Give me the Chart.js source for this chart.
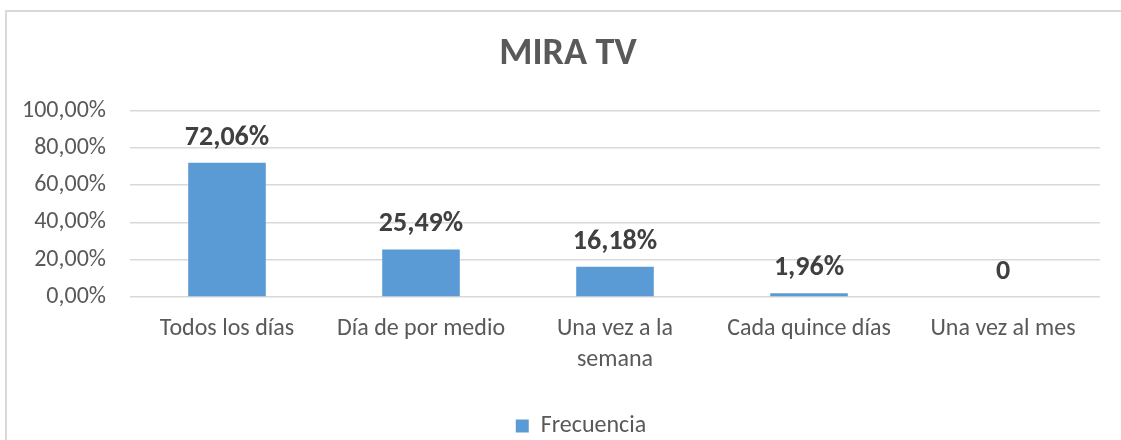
<!DOCTYPE html>
<html>
<head>
<meta charset="utf-8">
<script src="https://cdn.jsdelivr.net/npm/chart.js@4.4.1/dist/chart.umd.min.js"></script>
<style>
  html, body { margin: 0; padding: 0; background: #fff; overflow: hidden; }
  #wrap { position: relative; width: 1140px; height: 440px; }
  #marco { position: absolute; left: 5px; top: 10px; width: 1200px; height: 500px;
           border: 2px solid #d9d9d9; pointer-events: none; }
</style>
</head>
<body>
<div id="wrap">
  <canvas id="grafico" width="1140" height="440"></canvas>
  <div id="marco"></div>
</div>
<script>
const categorias = ["Todos los días", "Día de por medio", ["Una vez a la", "semana"], "Cada quince días", "Una vez al mes"];
const frecuencia = [72.06, 25.49, 16.18, 1.96, 0];
const ticksY = [0, 20, 40, 60, 80, 100];

const fuente = "Carlito, Lato, 'Liberation Sans', sans-serif";

function porcentaje(v) {
  return v.toFixed(2).replace(".", ",") + "%";
}

// etiquetas de datos encima de cada barra
const etiquetas = {
  id: "etiquetas",
  afterDatasetsDraw(chart) {
    const ctx = chart.ctx;
    const meta = chart.getDatasetMeta(0);
    ctx.save();
    ctx.font = "bold 28px " + fuente;
    ctx.fillStyle = "#404040";
    ctx.textAlign = "center";
    ctx.textBaseline = "middle";
    meta.data.forEach((bar, i) => {
      const v = frecuencia[i];
      const txt = v === 0 ? "0" : porcentaje(v);
      ctx.fillText(txt, bar.x, bar.y - 25);
    });
    ctx.restore();
  }
};

// en Excel el titulo y la leyenda quedan algo corridos
const ajustes = {
  id: "ajustes",
  afterLayout(chart) {
    chart.titleBlock.left += 8;
    chart.titleBlock.right += 8;
    chart.legend.left += 21;
    chart.legend.right += 21;
    chart.legend.top += 8;
    chart.legend.bottom += 8;
  }
};

const ctx = document.getElementById("grafico").getContext("2d");
new Chart(ctx, {
  type: "bar",
  data: {
    labels: categorias,
    datasets: [{
      label: "Frecuencia",
      data: frecuencia,
      backgroundColor: "#5B9BD5",
      borderWidth: 0,
      categoryPercentage: 1,
      barPercentage: 0.4
    }]
  },
  options: {
    responsive: false,
    animation: false,
    layout: { padding: { left: 20, right: 40, top: 0, bottom: 0 } },
    plugins: {
      title: {
        display: true,
        text: "MIRA TV",
        color: "#595959",
        font: { family: fuente, size: 38, weight: "bold" },
        padding: { top: 32, bottom: 33 }
      },
      legend: {
        position: "bottom",
        labels: {
          color: "#595959",
          font: { family: fuente, size: 24 },
          boxWidth: 13,
          boxHeight: 13,
          padding: 3
        }
      },
      tooltip: { enabled: false }
    },
    scales: {
      x: {
        grid: { display: false, drawTicks: false },
        border: { display: false },
        ticks: {
          color: "#595959",
          font: { family: fuente, size: 24, lineHeight: 1.27 },
          padding: 17,
          maxRotation: 0,
          autoSkip: false
        },
        afterFit(scale) { scale.height = 106; }
      },
      y: {
        min: 0,
        max: 100,
        grid: { color: "#d9d9d9", lineWidth: 1.5, drawTicks: false },
        border: { display: false },
        afterBuildTicks(scale) { scale.ticks = ticksY.map(v => ({ value: v })); },
        ticks: {
          color: "#595959",
          font: { family: fuente, size: 24 },
          padding: 24,
          callback: v => porcentaje(v)
        },
        afterFit(scale) { scale.width = 110; }
      }
    }
  },
  plugins: [etiquetas, ajustes]
});
</script>
</body>
</html>
